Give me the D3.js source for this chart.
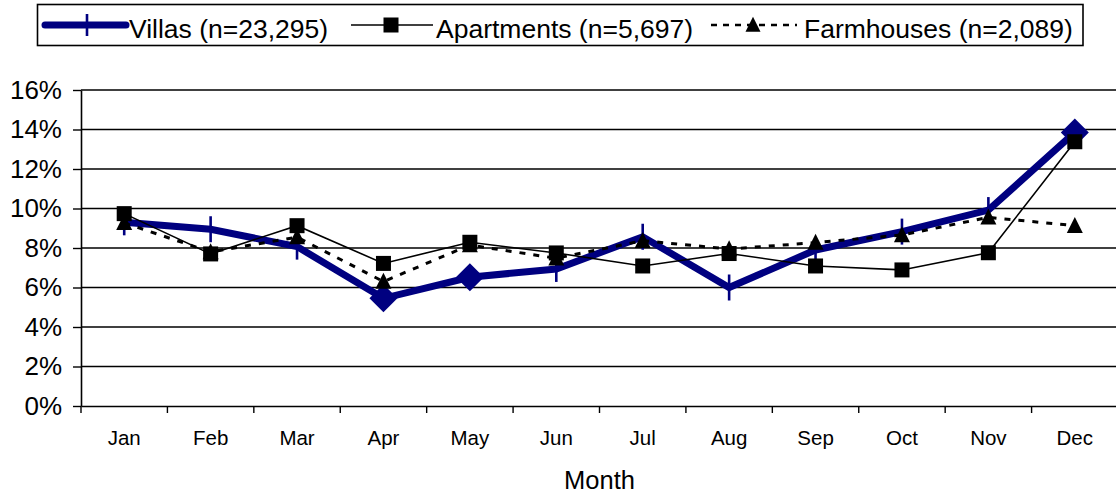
<!DOCTYPE html>
<html>
<head>
<meta charset="utf-8">
<script src="https://cdn.jsdelivr.net/npm/d3@7"></script>
<style>
  body { margin: 0; background: #fff; }
  svg { display: block; }
  text { font-family: "Liberation Sans", Arial, sans-serif; fill: #000; }
</style>
</head>
<body>
<svg id="chart" width="1116" height="498"></svg>
<script>
// Monthly share (%) by property type
const months = ["Jan", "Feb", "Mar", "Apr", "May", "Jun", "Jul", "Aug", "Sep", "Oct", "Nov", "Dec"];
const villas = [9.3, 8.95, 8.07, 5.45, 6.52, 6.94, 8.57, 6.0, 7.9, 8.83, 9.92, 13.85];
const apartments = [9.74, 7.7, 9.13, 7.22, 8.29, 7.75, 7.09, 7.72, 7.09, 6.89, 7.76, 13.38];
const farmhouses = [9.27, 7.8, 8.55, 6.3, 8.15, 7.48, 8.37, 7.95, 8.27, 8.66, 9.55, 9.13];
const yTicks = [0, 2, 4, 6, 8, 10, 12, 14, 16];
const villaDiamondMonths = ["Apr", "May", "Dec"];
const seriesNames = ["Villas (n=23,295)", "Apartments (n=5,697)", "Farmhouses (n=2,089)"];
const xTitle = "Month";

const svg = d3.select("#chart");
const plot = { left: 81, right: 1118, top: 90, bottom: 406 };

const x = d3.scaleBand().domain(months).range([plot.left, plot.right]).padding(0);
const y = d3.scaleLinear().domain([0, 16]).range([plot.bottom, plot.top]);
const cx = m => x(m) + x.bandwidth() / 2;

// horizontal gridlines
svg.append("g")
  .selectAll("line")
  .data(yTicks.filter(d => d > 0))
  .join("line")
  .attr("x1", plot.left).attr("x2", plot.right)
  .attr("y1", d => y(d)).attr("y2", d => y(d))
  .attr("stroke", "#000").attr("stroke-width", 1.4);

// y axis
const yAxis = svg.append("g")
  .attr("transform", `translate(${plot.left},0)`)
  .call(d3.axisLeft(y).tickValues(yTicks).tickFormat(d => d + "%").tickSize(8).tickPadding(11).tickSizeOuter(0));
yAxis.select(".domain").attr("stroke", "#000").attr("stroke-width", 1.6);
yAxis.selectAll(".tick line").attr("stroke", "#000").attr("stroke-width", 1.4);
yAxis.selectAll(".tick text")
  .attr("font-size", 26).attr("font-family", "Liberation Sans, Arial, sans-serif").attr("fill", "#000");

// x axis
const xAxis = svg.append("g")
  .attr("transform", `translate(0,${plot.bottom})`)
  .call(d3.axisBottom(x).tickSize(0).tickPadding(24).tickSizeOuter(0));
xAxis.select(".domain").attr("stroke", "#000").attr("stroke-width", 1.6);
xAxis.selectAll(".tick text")
  .attr("font-size", 20.5).attr("font-family", "Liberation Sans, Arial, sans-serif").attr("fill", "#000");

// category divider ticks
svg.append("g")
  .selectAll("line")
  .data(months)
  .join("line")
  .attr("x1", d => x(d)).attr("x2", d => x(d))
  .attr("y1", plot.bottom).attr("y2", plot.bottom + 7)
  .attr("stroke", "#000").attr("stroke-width", 1.4);

// x axis title
svg.append("text")
  .attr("x", (plot.left + plot.right) / 2)
  .attr("y", 489)
  .attr("text-anchor", "middle")
  .attr("font-size", 25.5)
  .text(xTitle);

const line = d3.line().x((d, i) => cx(months[i])).y(d => y(d));

// Villas: thick navy line with tick / diamond markers
const navy = "#000080";
svg.append("path")
  .datum(villas)
  .attr("d", line)
  .attr("fill", "none")
  .attr("stroke", navy).attr("stroke-width", 7).attr("stroke-linejoin", "miter");

const villaPts = months.map((m, i) => ({ m, v: villas[i] }));
svg.append("g")
  .selectAll("line")
  .data(villaPts.filter(d => !villaDiamondMonths.includes(d.m)))
  .join("line")
  .attr("x1", d => cx(d.m)).attr("x2", d => cx(d.m))
  .attr("y1", d => y(d.v) - 13).attr("y2", d => y(d.v) + 13)
  .attr("stroke", navy).attr("stroke-width", 2.6);
svg.append("g")
  .selectAll("path")
  .data(villaPts.filter(d => villaDiamondMonths.includes(d.m)))
  .join("path")
  .attr("d", d => { const px = cx(d.m), py = y(d.v), r = 14;
    return `M${px},${py - r}L${px + r},${py}L${px},${py + r}L${px - r},${py}Z`; })
  .attr("fill", navy);

// Apartments: thin black line with square markers
svg.append("path")
  .datum(apartments)
  .attr("d", line)
  .attr("fill", "none")
  .attr("stroke", "#000").attr("stroke-width", 1.6);
svg.append("g")
  .selectAll("rect")
  .data(apartments)
  .join("rect")
  .attr("x", (d, i) => cx(months[i]) - 7.5)
  .attr("y", d => y(d) - 7.5)
  .attr("width", 15).attr("height", 15)
  .attr("fill", "#000");

// Farmhouses: dashed black line with triangle markers
svg.append("path")
  .datum(farmhouses)
  .attr("d", line)
  .attr("fill", "none")
  .attr("stroke", "#000").attr("stroke-width", 3).attr("stroke-dasharray", "6,8");
const tri = (px, py, s) => `M${px},${py - s * 0.55}L${px + s / 2},${py + s * 0.45}L${px - s / 2},${py + s * 0.45}Z`;
svg.append("g")
  .selectAll("path")
  .data(farmhouses)
  .join("path")
  .attr("d", (d, i) => tri(cx(months[i]), y(d), 16))
  .attr("fill", "#000");

// legend
const lg = svg.append("g");
lg.append("rect")
  .attr("x", 37.5).attr("y", 4.5).attr("width", 1045.5).attr("height", 41)
  .attr("fill", "#fff").attr("stroke", "#000").attr("stroke-width", 1.6);
const ly = 25;
const textY = 38;
const legendFont = 26.5;

// Villas entry
lg.append("line").attr("x1", 45).attr("x2", 126).attr("y1", ly).attr("y2", ly)
  .attr("stroke", navy).attr("stroke-width", 7).attr("stroke-linecap", "round");
lg.append("line").attr("x1", 87).attr("x2", 87).attr("y1", ly - 11).attr("y2", ly + 11)
  .attr("stroke", navy).attr("stroke-width", 2.6);
lg.append("text").attr("x", 129).attr("y", textY).attr("font-size", legendFont).text(seriesNames[0]);

// Apartments entry
lg.append("line").attr("x1", 351).attr("x2", 433).attr("y1", ly).attr("y2", ly)
  .attr("stroke", "#000").attr("stroke-width", 1.6);
lg.append("rect").attr("x", 391 - 7.5).attr("y", ly - 7.5).attr("width", 15).attr("height", 15).attr("fill", "#000");
lg.append("text").attr("x", 436).attr("y", textY).attr("font-size", legendFont).text(seriesNames[1]);

// Farmhouses entry
lg.append("line").attr("x1", 711).attr("x2", 797).attr("y1", ly).attr("y2", ly)
  .attr("stroke", "#000").attr("stroke-width", 2.6).attr("stroke-dasharray", "6,6");
lg.append("path").attr("d", tri(753, ly, 15)).attr("fill", "#000");
lg.append("text").attr("x", 804).attr("y", textY).attr("font-size", legendFont).text(seriesNames[2]);
</script>
</body>
</html>
